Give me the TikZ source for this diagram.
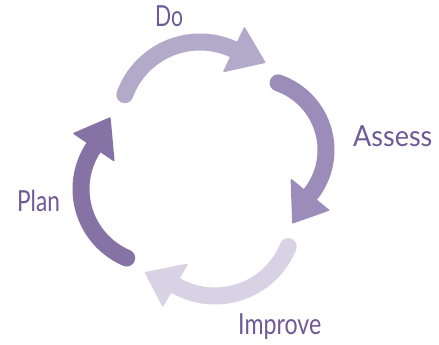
\documentclass[tikz,border=0pt]{standalone}
\usepackage{fontspec}
\setmainfont{Lato}
\definecolor{cdo}{HTML}{B3A9C9}
\definecolor{cassess}{HTML}{9B8CB9}
\definecolor{cimprove}{HTML}{D8D2E4}
\definecolor{cplan}{HTML}{8672A5}
\definecolor{ctext}{HTML}{6E5A96}
\begin{document}
\begin{tikzpicture}[x=1pt,y=1pt,
  band/.style={line width=17pt, line cap=round},
  head/.style={line join=round, line width=1.5pt},
  lbl/.style={anchor=base west, inner sep=0pt, text=ctext, font=\fontsize{29}{29}\selectfont}]
\useasboundingbox (0,0) rectangle (439,345);
\fill[white] (0,0) rectangle (439,345);
% Do
\begin{scope}[shift={(200,223)}]
\draw[band, cdo] (160:80) arc[start angle=160, end angle=64.7, radius=80];
\filldraw[head, cdo] (64.7:104) -- (42.7:88) -- (64.7:56) -- cycle;
\end{scope}
% Assess
\begin{scope}[shift={(255,195)}]
\draw[band, cassess] (71:71) arc[start angle=71, end angle=-39.3, radius=71];
\filldraw[head, cassess] (-39.3:95) -- (-62.5:82) -- (-39.3:47) -- cycle;
\end{scope}
% Improve
\begin{scope}[shift={(215,128)}]
\draw[band, cimprove] (-22:79) arc[start angle=-22, end angle=-120.5, radius=79];
\filldraw[head, cimprove] (-120.5:103) -- (-141.3:89) -- (-120.5:55) -- cycle;
\end{scope}
% Plan
\begin{scope}[shift={(156,156)}]
\draw[band, cplan] (247:75) arc[start angle=247, end angle=145.9, radius=75];
\filldraw[head, cplan] (145.9:99) -- (123:84.6) -- (145.9:51) -- cycle;
\end{scope}
% labels
\node[lbl] (do) at (155,318) {\scalebox{0.73}[1]{Do}};
\node[lbl] (assess) at (353,198) {\scalebox{0.93}[1]{Assess}};
\node[lbl] (plan) at (17,133) {\scalebox{0.78}[1]{Plan}};
\node[lbl] (improve) at (238,10) {\scalebox{0.8}[1]{Improve}};
\end{tikzpicture}
\end{document}
